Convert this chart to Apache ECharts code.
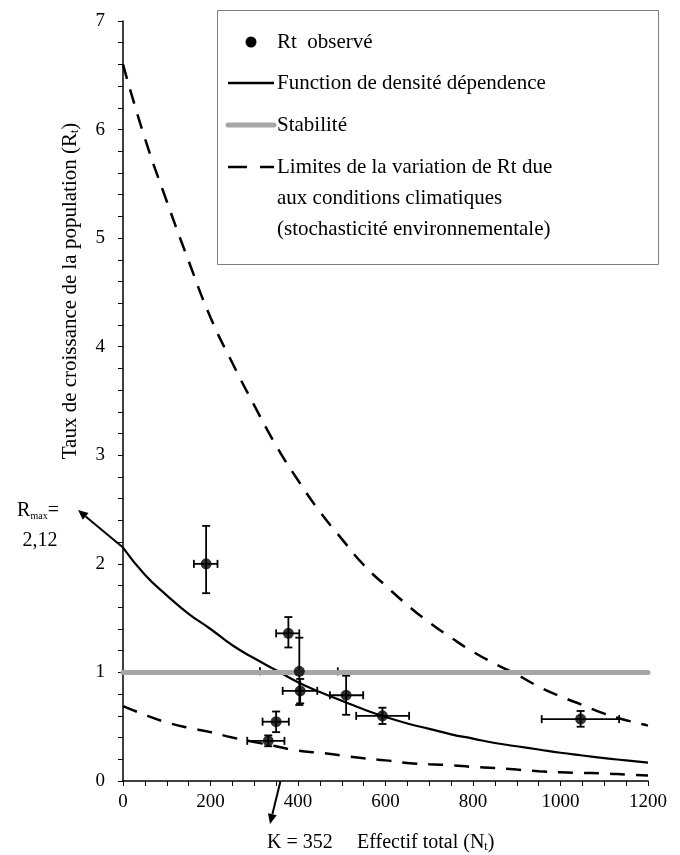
<!DOCTYPE html>
<html><head><meta charset="utf-8">
<script src="https://cdn.jsdelivr.net/npm/echarts@6/dist/echarts.min.js"></script>
<style>html,body{margin:0;padding:0;background:#fff}#c{width:680px;height:855px}</style>
</head><body><div id="c"></div>
<script>
// ---- data ----
const curveN = [0,50,100,150,200,250,300,350,400,450,500,550,600,650,700,750,800,850,900,950,1000,1050,1100,1150,1200];
const densityR = [2.15,1.90,1.71,1.54,1.40,1.25,1.13,1.02,0.91,0.82,0.74,0.66,0.59,0.53,0.48,0.43,0.39,0.35,0.32,0.29,0.26,0.235,0.21,0.19,0.17];
const upperR = [6.60,5.92,5.34,4.79,4.27,3.85,3.46,3.09,2.77,2.48,2.23,1.99,1.80,1.62,1.46,1.32,1.19,1.08,0.98,0.87,0.78,0.70,0.62,0.56,0.51];
const lowerR = [0.69,0.61,0.54,0.49,0.45,0.40,0.36,0.32,0.28,0.26,0.235,0.21,0.19,0.165,0.155,0.145,0.13,0.12,0.105,0.09,0.08,0.075,0.07,0.06,0.05];
const stabilityN = [0,1200];
const stabilityR = [1,1];
const obsN   = [190, 332, 350, 378, 403, 405, 510, 593, 1046];
const obsR   = [2.00,0.37,0.546,1.36,1.01,0.83,0.79,0.60,0.57];
const obsNlo = [162, 284, 319, 350, 313, 365, 473, 533, 957];
const obsNhi = [216, 369, 379, 403, 491, 444, 549, 654, 1134];
const obsRlo = [1.73,0.32,0.45,1.23,0.70,0.715,0.61,0.525,0.50];
const obsRhi = [2.35,0.42,0.64,1.51,1.32,0.94,0.97,0.675,0.645];
const K = 352;
const RmaxText = '2,12';
const legendLabels = ['Rt  observé','Function de densité dépendence','Stabilité',
  'Limites de la variation de Rt due','aux conditions climatiques','(stochasticité environnementale)'];

const FONT = '"Liberation Serif", "DejaVu Serif", serif';
const zip = (a,b) => a.map((v,i)=>[v,b[i]]);

const chart = echarts.init(document.getElementById('c'), null, {renderer:'canvas'});
const axisBase = (split, margin) => ({
  axisLine:{show:true, onZero:false, lineStyle:{color:'#000', width:1.5}},
  axisTick:{show:true, inside:false, length:5, lineStyle:{color:'#000', width:1}},
  minorTick:{show:true, splitNumber:split, length:5, lineStyle:{color:'#000', width:1}},
  splitLine:{show:false},
  axisLabel:{color:'#000', fontFamily:FONT, fontSize:19, margin:margin, formatter:v=>String(v)}
});
chart.setOption({
  animation:false,
  backgroundColor:'#fff',
  grid:{left:123, right:32, top:21, bottom:74, containLabel:false},
  xAxis:Object.assign({type:'value', min:0, max:1200, interval:200}, axisBase(4, 12)),
  yAxis:Object.assign({type:'value', min:0, max:7, interval:1}, axisBase(5, 18)),
  series:[
    {name:'Function de densité dépendence', type:'line', data:zip(curveN, densityR), symbol:'none', smooth:true,
     lineStyle:{color:'#000', width:2.2}, z:2},
    {name:'Limite haute', type:'line', data:zip(curveN, upperR), symbol:'none', smooth:true,
     lineStyle:{color:'#000', width:2.5, type:[15,11]}, z:2},
    {name:'Limite basse', type:'line', data:zip(curveN, lowerR), symbol:'none', smooth:true,
     lineStyle:{color:'#000', width:2.5, type:[15,11]}, z:2},
    {name:'Erreurs', type:'custom', z:3,
     data:obsN.map((n,i)=>[n, obsR[i], obsNlo[i], obsNhi[i], obsRlo[i], obsRhi[i]]),
     renderItem:function(params, api){
       const x=api.value(0), y=api.value(1);
       const pl=api.coord([api.value(2), y]), ph=api.coord([api.value(3), y]);
       const pb=api.coord([x, api.value(4)]), pt=api.coord([x, api.value(5)]);
       const c=4, st={stroke:'#000', lineWidth:1.8};
       const L=(x1,y1,x2,y2)=>({type:'line', shape:{x1,y1,x2,y2}, style:st});
       return {type:'group', children:[
         L(pl[0],pl[1],ph[0],ph[1]), L(pl[0],pl[1]-c,pl[0],pl[1]+c), L(ph[0],ph[1]-c,ph[0],ph[1]+c),
         L(pb[0],pb[1],pt[0],pt[1]), L(pb[0]-c,pb[1],pb[0]+c,pb[1]), L(pt[0]-c,pt[1],pt[0]+c,pt[1])
       ]};
     }},
    {name:'Stabilité', type:'line', data:zip(stabilityN, stabilityR), symbol:'none',
     lineStyle:{color:'#a6a6a6', width:5, cap:'round'}, z:3.5},
    {name:'Rt observé', type:'scatter', data:zip(obsN, obsR), symbol:'circle', symbolSize:11,
     itemStyle:{color:'#000'}, z:4}
  ]
});

// ---- annotations (legend box, axis names, arrows) ----
function arrow(x1,y1,x2,y2){ // line with arrowhead at (x2,y2)
  const a=Math.atan2(y2-y1,x2-x1), hl=10, hw=4.5;
  const bx=x2-hl*Math.cos(a), by=y2-hl*Math.sin(a);
  const px=-Math.sin(a)*hw, py=Math.cos(a)*hw;
  return [
    {type:'line', shape:{x1,y1,x2:bx,y2:by}, style:{stroke:'#000', lineWidth:2}},
    {type:'polygon', shape:{points:[[x2,y2],[bx+px,by+py],[bx-px,by-py]]}, style:{fill:'#000'}}
  ];
}
const p0 = chart.convertToPixel({gridIndex:0}, [0, densityR[0]]);
const pK = chart.convertToPixel({gridIndex:0}, [K+8, 0]);
const LF = 21;
const txt = (text, x, y, extra) => ({type:'text', x, y, style:Object.assign({text, fontFamily:FONT, fontSize:LF,
  fill:'#000', align:'left', verticalAlign:'middle'}, extra||{})});
const sub = {fontFamily:FONT, fontSize:12, verticalAlign:'bottom', fill:'#000'};
const lx1=228, lx2=274, tx=277;
const elements = [
  {type:'rect', shape:{x:217.5, y:10.5, width:441, height:254}, style:{fill:'#fff', stroke:'#7f7f7f', lineWidth:1}, z:10},
  {type:'circle', shape:{cx:251, cy:42, r:5.5}, style:{fill:'#000'}, z:11},
  txt(legendLabels[0], tx, 42, {}),
  {type:'line', shape:{x1:lx1, y1:83, x2:lx2, y2:83}, style:{stroke:'#000', lineWidth:2.5}, z:11},
  txt(legendLabels[1], tx, 83),
  {type:'line', shape:{x1:lx1, y1:125, x2:lx2, y2:125}, style:{stroke:'#a6a6a6', lineWidth:5, lineCap:'round'}, z:11},
  txt(legendLabels[2], tx, 125),
  {type:'line', shape:{x1:lx1, y1:167, x2:lx2, y2:167}, style:{stroke:'#000', lineWidth:2.5, lineDash:[19,13]}, z:11},
  txt(legendLabels[3], tx, 167),
  txt(legendLabels[4], tx, 198),
  txt(legendLabels[5], tx, 229),
  // y axis name
  {type:'text', x:70, y:291, rotation:Math.PI/2,
   style:{text:'Taux de croissance de la population (R{s|t})', fontFamily:FONT, fontSize:21, fill:'#000',
          align:'center', verticalAlign:'middle', rich:{s:sub}}},
  // x axis name + K
  txt('K = 352', 267, 843, {fontSize:20}),
  {type:'text', x:357, y:843, style:{text:'Effectif total (N{s|t})', fontFamily:FONT, fontSize:20, fill:'#000',
   align:'left', verticalAlign:'middle', rich:{s:sub}}},
  // Rmax label
  {type:'text', x:38, y:511, style:{text:'R{s|max}=', fontFamily:FONT, fontSize:20, fill:'#000',
   align:'center', verticalAlign:'middle', rich:{s:{fontFamily:FONT, fontSize:10, verticalAlign:'bottom', fill:'#000'}}}},
  txt(RmaxText, 40, 541, {align:'center', fontSize:20})
].concat(arrow(p0[0], p0[1], 78, 510)).concat(arrow(pK[0], pK[1], 270, 824));
elements.forEach(e=>{ if(e.z===undefined) e.z=11; });
chart.setOption({graphic:{elements}});
</script></body></html>
